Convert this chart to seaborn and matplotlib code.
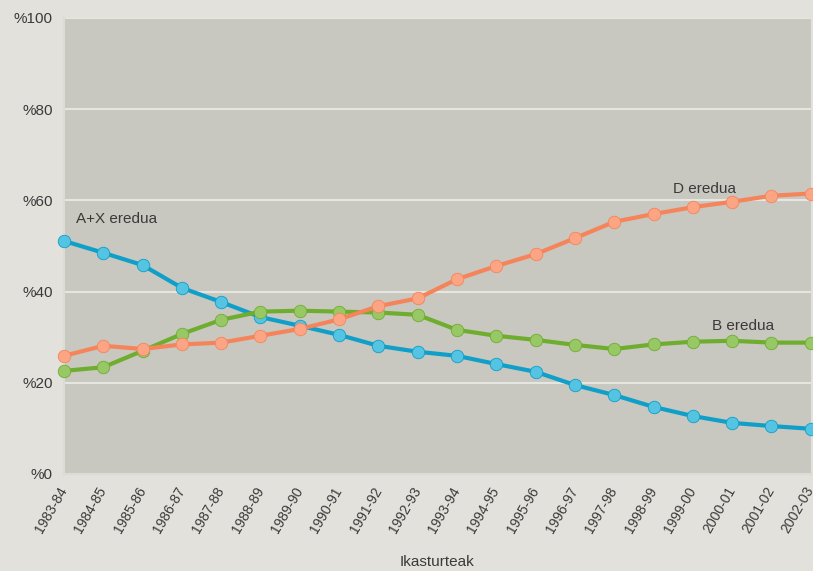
import matplotlib

matplotlib.use('Agg')
import matplotlib.pyplot as plt
import pandas as pd
import seaborn as sns

years = ['1983-84', '1984-85', '1985-86', '1986-87', '1987-88', '1988-89', '1989-90',
         '1990-91', '1991-92', '1992-93', '1993-94', '1994-95', '1995-96', '1996-97',
         '1997-98', '1998-99', '1999-00', '2000-01', '2001-02', '2002-03']

ax_eredua = [51.1, 48.5, 45.8, 40.8, 37.7, 34.4, 32.5, 30.5, 28.1, 26.8,
             25.9, 24.1, 22.4, 19.5, 17.3, 14.7, 12.7, 11.2, 10.5, 9.9]
b_eredua = [22.6, 23.4, 27.0, 30.7, 33.8, 35.6, 35.8, 35.6, 35.4, 34.9,
            31.6, 30.3, 29.4, 28.3, 27.4, 28.4, 29.0, 29.2, 28.8, 28.8]
d_eredua = [25.9, 28.1, 27.4, 28.4, 28.8, 30.3, 31.8, 33.9, 36.8, 38.5,
            42.7, 45.6, 48.2, 51.7, 55.3, 57.0, 58.5, 59.7, 61.0, 61.5]

y_ticks = [0, 20, 40, 60, 80, 100]

series = {'A+X eredua': ax_eredua, 'B eredua': b_eredua, 'D eredua': d_eredua}
line_colors = {'A+X eredua': '#0f9fc8', 'B eredua': '#6fad2f', 'D eredua': '#f6845a'}
dot_colors = {'A+X eredua': '#55c3e2', 'B eredua': '#98c766', 'D eredua': '#fba585'}

frames = [pd.DataFrame({'year': years, 'pct': vals, 'eredua': name}) for name, vals in series.items()]
df = pd.concat(frames, ignore_index=True)

sns.set_style('white')
plt.rcParams['font.family'] = ['Liberation Sans', 'DejaVu Sans']

fig = plt.figure(figsize=(8.13, 5.71), dpi=100, facecolor='#e2e1dc')
ax = fig.add_axes([0.0787, 0.170, 0.9185, 0.7985])
ax.set_facecolor('#c8c8c0')

for name in series:
    sns.lineplot(data=df[df['eredua'] == name], x='year', y='pct', ax=ax,
                 color=line_colors[name], linewidth=3.0, marker='o', markersize=9,
                 markerfacecolor=dot_colors[name], markeredgecolor=line_colors[name],
                 markeredgewidth=0.6, clip_on=False, zorder=3, sort=False)

ax.set_xlim(0, len(years) - 1)
ax.set_ylim(0, 100)
ax.set_yticks(y_ticks)
ax.set_yticklabels(['%' + str(t) for t in y_ticks], fontsize=11, color='#3a3a3a')
ax.set_xticks(range(len(years)))
ax.set_xticklabels(years, rotation=60, ha='right', va='center', rotation_mode='anchor',
                   fontsize=10, color='#3a3a3a')
ax.tick_params(axis='y', length=0, pad=8)
ax.tick_params(axis='x', length=0, pad=10)
ax.yaxis.grid(True, color='#e6e6e0', linewidth=1.5, zorder=1)
ax.set_axisbelow(True)
for side in ['top', 'right']:
    ax.spines[side].set_visible(False)
for side in ['left', 'bottom']:
    ax.spines[side].set_color('#dcdcd6')
    ax.spines[side].set_linewidth(1.5)

ax.set_xlabel('Ikasturteak', fontsize=11, color='#3a3a3a', labelpad=14)
ax.set_ylabel('')

ax.text(0.3, 55, 'A+X eredua', fontsize=11, color='#3a3a3a')
ax.text(15.5, 61.7, 'D eredua', fontsize=11, color='#3a3a3a')
ax.text(16.5, 31.5, 'B eredua', fontsize=11, color='#3a3a3a')

legend = ax.get_legend()
if legend is not None:
    legend.remove()

plt.savefig('out.png', dpi=100, facecolor=fig.get_facecolor())
plt.close()
